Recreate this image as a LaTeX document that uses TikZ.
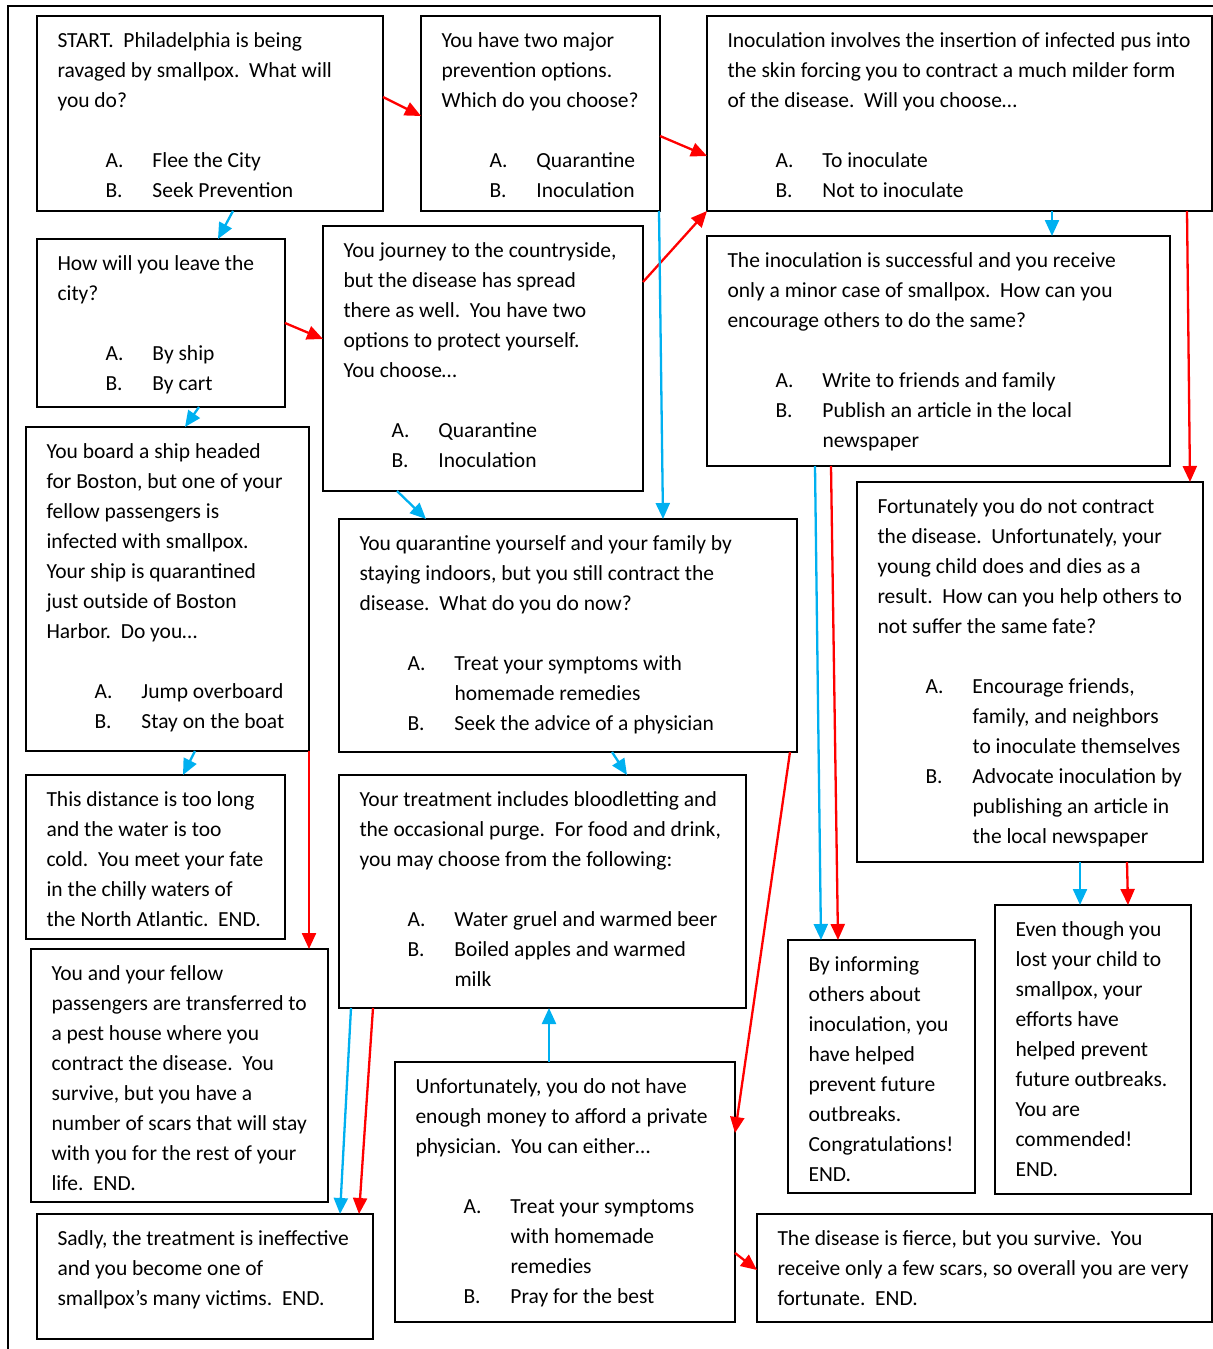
\documentclass[tikz,border=0pt]{standalone}
\usepackage{fontspec}
\setmainfont{Carlito}
\usetikzlibrary{arrows.meta,calc}
\definecolor{arrblue}{RGB}{0,176,240}
\definecolor{arrred}{RGB}{255,0,0}
\newdimen\upx \upx=0.5pt
\newcommand\bx[3]{\parbox[t][#2\upx][t]{#1\upx}{\leftskip=10.25pt\rightskip=0pt plus 1fil\relax\rule{0pt}{15.5pt}#3}}
\newcommand\itm[2]{\hspace*{24pt}\makebox[23.5pt][l]{#1}#2}
\newcommand\cnt[1]{\hspace*{47.5pt}#1}
\newcommand\dsp{\ \ }
\tikzset{
  stbox/.style={draw, line width=1.1pt, inner sep=0pt, outer sep=0pt, anchor=north west, font=\fontsize{10.75}{15}\selectfont},
  conn/.style={line width=1.15pt, -{Triangle[length=8pt,width=7pt]}},
  bl/.style={conn, draw=arrblue},
  rd/.style={conn, draw=arrred},
  frame/.style={line width=0.9pt}
}
\begin{document}
\begin{tikzpicture}[x=0.5pt,y=-0.5pt]
\useasboundingbox (0,0) rectangle (1213,1349);
\draw[frame] (1213,6) -- (8,6) -- (8,1349);

\node[stbox] (start) at (37,16) {\bx{346}{195}{START.\dsp Philadelphia is being\\ravaged by smallpox.\dsp What will\\you do?\\[15pt]\itm{A.}{Flee the City}\\\itm{B.}{Seek Prevention}}};
\node[stbox] (two) at (421,16) {\bx{239}{195}{You have two major\\prevention options.\\Which do you choose?\\[15pt]\itm{A.}{Quarantine}\\\itm{B.}{Inoculation}}};
\node[stbox] (inoc) at (707,16) {\bx{505}{195}{Inoculation involves the insertion of infected pus into\\the skin forcing you to contract a much milder form\\of the disease.\dsp Will you choose…\\[15pt]\itm{A.}{To inoculate}\\\itm{B.}{Not to inoculate}}};
\node[stbox] (how) at (37,239) {\bx{248}{168}{How will you leave the\\city?\\[15pt]\itm{A.}{By ship}\\\itm{B.}{By cart}}};
\node[stbox] (country) at (323,226) {\bx{320}{265}{You journey to the countryside,\\but the disease has spread\\there as well.\dsp You have two\\options to protect yourself.\\You choose…\\[15pt]\itm{A.}{Quarantine}\\\itm{B.}{Inoculation}}};
\node[stbox] (succ) at (707,236) {\bx{463}{230}{The inoculation is successful and you receive\\only a minor case of smallpox.\dsp How can you\\encourage others to do the same?\\[15pt]\itm{A.}{Write to friends and family}\\\itm{B.}{Publish an article in the local}\\\cnt{newspaper}}};
\node[stbox] (ship) at (26,427) {\bx{283}{324}{You board a ship headed\\for Boston, but one of your\\fellow passengers is\\infected with smallpox.\\Your ship is quarantined\\just outside of Boston\\Harbor.\dsp Do you…\\[15pt]\itm{A.}{Jump overboard}\\\itm{B.}{Stay on the boat}}};
\node[stbox] (quar) at (339,519) {\bx{458}{233}{You quarantine yourself and your family by\\staying indoors, but you still contract the\\disease.\dsp What do you do now?\\[15pt]\itm{A.}{Treat your symptoms with}\\\cnt{homemade remedies}\\\itm{B.}{Seek the advice of a physician}}};
\node[stbox] (fort) at (857,482) {\bx{346}{380}{Fortunately you do not contract\\the disease.\dsp Unfortunately, your\\young child does and dies as a\\result.\dsp How can you help others to\\not suffer the same fate?\\[15pt]\itm{A.}{Encourage friends,}\\\cnt{family, and neighbors}\\\cnt{to inoculate themselves}\\\itm{B.}{Advocate inoculation by}\\\cnt{publishing an article in}\\\cnt{the local newspaper}}};
\node[stbox] (dist) at (26,775) {\bx{259}{164}{This distance is too long\\and the water is too\\cold.\dsp You meet your fate\\in the chilly waters of\\the North Atlantic.\dsp END.}};
\node[stbox] (treat) at (339,775) {\bx{407}{233}{Your treatment includes bloodletting and\\the occasional purge.\dsp For food and drink,\\you may choose from the following:\\[15pt]\itm{A.}{Water gruel and warmed beer}\\\itm{B.}{Boiled apples and warmed}\\\cnt{milk}}};
\node[stbox] (inform) at (788,940) {\bx{187}{253}{By informing\\others about\\inoculation, you\\have helped\\prevent future\\outbreaks.\\Congratulations!\\END.}};
\node[stbox] (even) at (995,905) {\bx{196}{289}{Even though you\\lost your child to\\smallpox, your\\efforts have\\helped prevent\\future outbreaks.\\You are\\commended!\\END.}};
\node[stbox] (fellow) at (31,949) {\bx{297}{253}{You and your fellow\\passengers are transferred to\\a pest house where you\\contract the disease.\dsp You\\survive, but you have a\\number of scars that will stay\\with you for the rest of your\\life.\dsp END.}};
\node[stbox] (sadly) at (37,1214) {\bx{336}{125}{Sadly, the treatment is ineffective\\and you become one of\\smallpox’s many victims.\dsp END.}};
\node[stbox] (unf) at (395,1062) {\bx{340}{260}{Unfortunately, you do not have\\enough money to afford a private\\physician.\dsp You can either…\\[15pt]\itm{A.}{Treat your symptoms}\\\cnt{with homemade}\\\cnt{remedies}\\\itm{B.}{Pray for the best}}};
\node[stbox] (fierce) at (757,1214) {\bx{455}{108}{The disease is fierce, but you survive.\dsp You\\receive only a few scars, so overall you are very\\fortunate.\dsp END.}};

% connectors
\draw[rd] ($(start.north east)+(0,81)$) -- ($(two.north west)+(0,100)$);
\draw[rd] ($(two.north east)+(0,120)$) -- ($(inoc.north west)+(0,140)$);
\draw[rd] ($(country.north east)+(0,56)$) -- (inoc.south west);
\draw[bl] ($(start.south west)+(196,0)$) -- ($(how.north west)+(181,0)$);
\draw[bl] ($(two.south east)+(-1,0)$) -- ($(quar.north west)+(324,0)$);
\draw[bl] ($(country.south west)+(74,0)$) -- ($(quar.north west)+(87,0)$);
\draw[rd] ($(how.north east)+(0,84)$) -- ($(country.north west)+(0,113)$);
\draw[bl] ($(how.south west)+(162,0)$) -- ($(ship.north west)+(159,0)$);
\draw[bl] ($(ship.south west)+(169,0)$) -- ($(dist.north west)+(157,0)$);
\draw[rd] (ship.south east) -- ($(fellow.north west)+(278,0)$);
\draw[bl] ($(quar.south west)+(273,0)$) -- ($(treat.north west)+(288,0)$);
\draw[rd] ($(quar.south east)+(-7,0)$) -- ($(unf.north east)+(0,71)$);
\draw[bl] ($(treat.south west)+(12,0)$) -- ($(sadly.north west)+(303,0)$);
\draw[rd] ($(treat.south west)+(34,0)$) -- ($(sadly.north west)+(322,0)$);
\draw[bl] ($(unf.north west)+(154,0)$) -- ($(treat.south west)+(210,0)$);
\draw[rd] ($(unf.north east)+(0,191)$) -- ($(fierce.north west)+(0,56)$);
\draw[bl] ($(succ.south west)+(108,0)$) -- ($(inform.north west)+(33,0)$);
\draw[rd] ($(succ.south west)+(124,0)$) -- ($(inform.north west)+(50,0)$);
\draw[bl] ($(inoc.south west)+(345,0)$) -- ($(succ.north west)+(345,0)$);
\draw[rd] ($(inoc.south west)+(480,0)$) -- ($(fort.north west)+(333,0)$);
\draw[bl] ($(fort.south west)+(223,0)$) -- ($(even.north west)+(85,0)$);
\draw[rd] ($(fort.south west)+(270,0)$) -- ($(even.north west)+(133,0)$);
\end{tikzpicture}
\end{document}
